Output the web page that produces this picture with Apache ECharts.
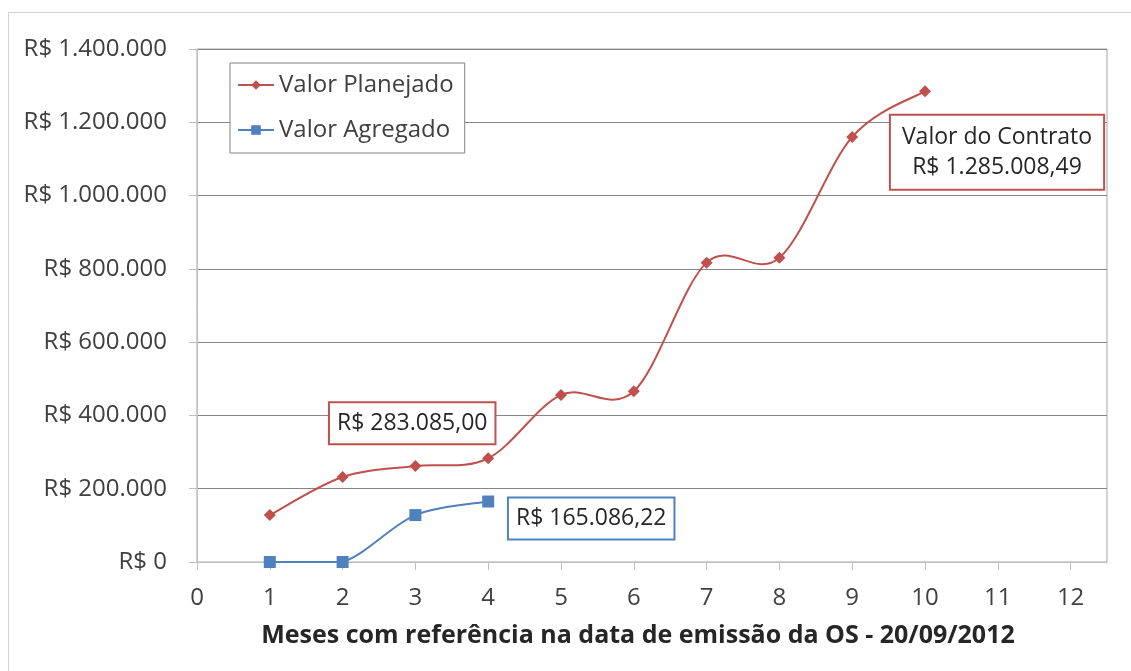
<!DOCTYPE html>
<html>
<head>
<meta charset="utf-8">
<script src="https://cdn.jsdelivr.net/npm/echarts@6/dist/echarts.min.js"></script>
<style>
  html, body { margin: 0; padding: 0; background: #fff; }
  #lineChart { width: 1131px; height: 671px; }
</style>
</head>
<body>
<div id="lineChart"></div>
<script>
// months after the OS date
const months = [1, 2, 3, 4, 5, 6, 7, 8, 9, 10];
const plannedValues = [128000, 232000, 262000, 283085, 456000, 466000, 817000, 830000, 1160000, 1285008.49];
const addedMonths = [1, 2, 3, 4];
const addedValues = [0, 0, 128000, 165086.22];
const xTicks = [0, 1, 2, 3, 4, 5, 6, 7, 8, 9, 10, 11, 12];
const yMax = 1400000;
const yStep = 200000;

const FONT = "Open Sans";
const RED = "#c0504d";
const BLUE = "#4f81bd";

function brl(v) {
  // 1400000 -> R$ 1.400.000
  return "R$ " + String(Math.round(v)).replace(/\B(?=(\d{3})+(?!\d))/g, ".");
}

// excel style smoothed line (catmull-rom through the points)
function smoothCurve(name, xs, ys, color) {
  return {
    name: name,
    type: "custom",
    silent: true,
    z: 2,
    data: xs.map((x, i) => [x, ys[i]]),
    renderItem(params, api) {
      const i = params.dataIndex;
      const n = xs.length;
      if (i >= n - 1) return null;
      const p = (k) => {
        k = Math.max(0, Math.min(n - 1, k));
        return api.coord([xs[k], ys[k]]);
      };
      const p0 = p(i - 1), p1 = p(i), p2 = p(i + 1), p3 = p(i + 2);
      let cpy1 = p1[1] + (p2[1] - p0[1]) / 6;
      let cpy2 = p2[1] - (p3[1] - p1[1]) / 6;
      // flat segment stays flat
      if (ys[i] === ys[i + 1]) {
        cpy1 = p1[1];
        cpy2 = p2[1];
      }
      return {
        type: "bezierCurve",
        shape: {
          x1: p1[0], y1: p1[1],
          x2: p2[0], y2: p2[1],
          cpx1: p1[0] + (p2[0] - p0[0]) / 6,
          cpy1: cpy1,
          cpx2: p2[0] - (p3[0] - p1[0]) / 6,
          cpy2: cpy2,
        },
        style: { stroke: color, lineWidth: 2, fill: null },
      };
    },
  };
}

const labelBox = {
  show: true,
  position: "inside",
  fontFamily: FONT,
  fontSize: 23,
  lineHeight: 26,
  color: "#262626",
  backgroundColor: "#fff",
  borderWidth: 2,
  padding: [7, 7, 7, 7],
};

const plannedData = months.map((m, i) => {
  const item = { value: [m, plannedValues[i]] };
  if (m === 4) {
    item.label = Object.assign({}, labelBox, {
      borderColor: RED,
      offset: [-76, -35],
      formatter: "R$ 283.085,00",
    });
  }
  if (m === 10) {
    item.label = Object.assign({}, labelBox, {
      borderColor: RED,
      offset: [72, 61],
      lineHeight: 30,
      padding: [6, 11, 7, 11],
      align: "center",
      formatter: "Valor do Contrato\nR$ 1.285.008,49",
    });
  }
  return item;
});

const addedData = addedMonths.map((m, i) => {
  const item = { value: [m, addedValues[i]] };
  if (m === 4) {
    item.label = Object.assign({}, labelBox, {
      borderColor: BLUE,
      offset: [103, 17],
      formatter: "R$ 165.086,22",
    });
  }
  return item;
});

const lineChart = echarts.init(document.getElementById("lineChart"));
let option = {
  animation: false,
  textStyle: { fontFamily: FONT },
  graphic: [
    {
      type: "rect",
      shape: { x: 8.5, y: 12.5, width: 1140, height: 680 },
      style: { fill: null, stroke: "#d0d0d0", lineWidth: 1 },
      silent: true,
    },
    {
      type: "text",
      x: 638,
      y: 636,
      style: {
        text: "Meses com referência na data de emissão da OS - 20/09/2012",
        fontFamily: FONT,
        fontWeight: "bold",
        fontSize: 25,
        fill: "#262626",
        align: "center",
        verticalAlign: "middle",
      },
    },
  ],
  legend: {
    orient: "vertical",
    left: 230,
    top: 63,
    padding: [10, 11, 11, 7],
    backgroundColor: "#fff",
    borderColor: "#808080",
    borderWidth: 1,
    itemWidth: 36,
    itemHeight: 12,
    itemGap: 21,
    textStyle: { fontFamily: FONT, fontSize: 24, color: "#404040" },
    data: [
      { name: "Valor Planejado", lineStyle: { width: 2, color: RED } },
      { name: "Valor Agregado", lineStyle: { width: 2, color: BLUE } },
    ],
  },
  grid: {
    left: 197,
    right: 24,
    top: 49,
    bottom: 109,
    show: true,
    borderColor: "#a6a6a6",
    borderWidth: 1,
  },
  xAxis: {
    type: "value",
    min: 0,
    max: 12.5,
    interval: 1,
    splitLine: { show: false },
    axisLine: { show: true, lineStyle: { color: "#bfbfbf", width: 1 } },
    axisTick: { show: true, length: 8, customValues: xTicks, lineStyle: { color: "#bfbfbf" } },
    axisLabel: {
      customValues: xTicks,
      margin: 24,
      fontFamily: FONT,
      fontSize: 24,
      color: "#404040",
    },
  },
  yAxis: {
    type: "value",
    min: 0,
    max: yMax,
    interval: yStep,
    axisLine: { show: true, lineStyle: { color: "#bfbfbf", width: 1 } },
    axisTick: { show: true, length: 8, lineStyle: { color: "#bfbfbf" } },
    splitLine: { show: true, lineStyle: { color: "#868686", width: 1 } },
    axisLabel: {
      margin: 30,
      fontFamily: FONT,
      fontSize: 24,
      color: "#404040",
      formatter: (v) => brl(v),
    },
  },
  series: [
    {
      name: "Valor Planejado",
      type: "line",
      symbol: "diamond",
      symbolSize: 12,
      itemStyle: { color: RED },
      lineStyle: { color: RED, width: 0 },
      label: { show: false },
      data: plannedData,
      z: 3,
    },
    {
      name: "Valor Agregado",
      type: "line",
      symbol: "rect",
      symbolSize: 12,
      itemStyle: { color: BLUE },
      lineStyle: { color: BLUE, width: 0 },
      label: { show: false },
      data: addedData,
      z: 3,
    },
    smoothCurve("curva planejado", months, plannedValues, RED),
    smoothCurve("curva agregado", addedMonths, addedValues, BLUE),
  ],
};
lineChart.setOption(option);
</script>
</body>
</html>
